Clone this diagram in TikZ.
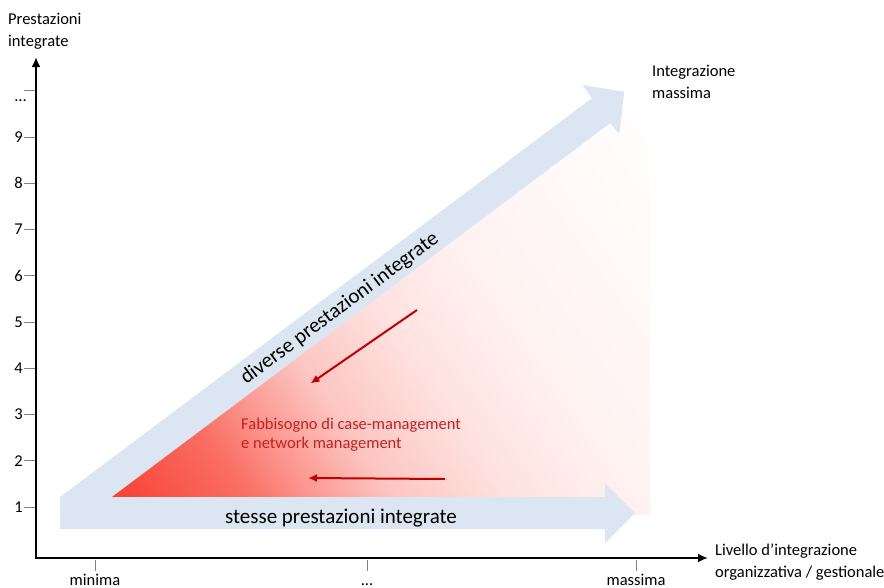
\documentclass[tikz,border=0pt]{standalone}
\usepackage{fontspec}
\setmainfont{Carlito}
\usetikzlibrary{arrows.meta}
\usepackage{xcolor}

\definecolor{arrowblue}{RGB}{220,230,242}
\definecolor{needred}{RGB}{192,0,0}
\definecolor{textred}{RGB}{200,30,30}
\definecolor{fadered}{RGB}{248,62,48}
\pgfdeclarehorizontalshading{redfade}{100bp}{color(0bp)=(fadered); color(16bp)=(fadered);
  color(28bp)=(fadered!75!white); color(33bp)=(fadered!55!white); color(40bp)=(fadered!30!white);
  color(50bp)=(fadered!15!white); color(60bp)=(fadered!7!white); color(75bp)=(fadered!2.5!white);
  color(88bp)=(white); color(100bp)=(white)}
\newcommand{\tdots}{...}

\begin{document}
\begin{tikzpicture}[%
        x=1pt, y=-1pt,
        every node/.style={inner sep=0pt, font=\fontsize{16.5}{21.5}\selectfont},
        axis/.style={line width=2.5pt, {Latex[length=10pt,width=9pt]}-{Latex[length=10pt,width=9pt]}},
        tick/.style={gray, line width=0.8pt},
        band/.style={fill=arrowblue, draw=none},
        need/.style={needred, line width=2pt, -{Latex[length=9pt,width=8pt]}},
        big/.style={font=\fontsize{21}{25}\selectfont}
      ]
      \useasboundingbox (0,0) rectangle (884,587);
      \shade[shading=redfade, shading angle=35] (107,499) -- (650,94) -- (650,515) -- (107,515) -- cycle;
      \fill[band] (60,497) -- (591.7,98.3) -- (582.7,85) -- (624.3,91.7) -- (619.3,133.3) -- (610,123.3) -- (78.5,521.9) -- cycle;
      \fill[band] (60,497) -- (605,497) -- (605,483) -- (635,513) -- (605,543) -- (605,529) -- (60,529) -- cycle;
      \node (same) [big, anchor=base] at (341,523) {stesse prestazioni integrate};
      \node (diverse) [big, anchor=base, rotate=36.6] at (343,313) {diverse prestazioni integrate};
      \node (need) [anchor=base west, align=left, textred, font=\fontsize{16.5}{19}\selectfont] at (241,448) {Fabbisogno di case-management\\e network management};
      \coordinate (a1) at (417,310);
      \coordinate (b1) at (310.5,383.5);
      \coordinate (a2) at (445,479);
      \coordinate (b2) at (308,478);
      \draw[need] (a1) -- (b1);
      \draw[need] (a2) -- (b2);
      \coordinate (o) at (36,558);
      \coordinate (ytip) at (36,57);
      \coordinate (xtip) at (708,558);
      \draw[axis] (ytip) -- (o) -- (xtip);
      \foreach \n in {1,...,9} {
        \draw[tick] (24,{553.3-46.25*\n}) -- (35,{553.3-46.25*\n});
        \node (y\n) [anchor=east] at (23,{553.3-46.25*\n}) {\n};
      }
      \draw[tick] (24,90.8) -- (35,90.8);
      \node (ydots) [anchor=base east] at (27,101.5) {\tdots};
      \foreach \x/\t [count=\i] in {95/minima, 367/\tdots, 636/massima} {
        \draw[tick] (\x,560) -- (\x,571);
        \node (x\i) [anchor=base] at (\x,585.5) {\t};
      }
      \node (ylabel) [anchor=base west, align=left] at (8,46) {Prestazioni\\integrate};
      \node (xlabel) [anchor=base west, align=left] at (715,577) {Livello d’integrazione\\organizzativa / gestionale};
      \node (top) [anchor=base west, align=left] at (652,98) {Integrazione\\massima};
    \end{tikzpicture}
\end{document}
